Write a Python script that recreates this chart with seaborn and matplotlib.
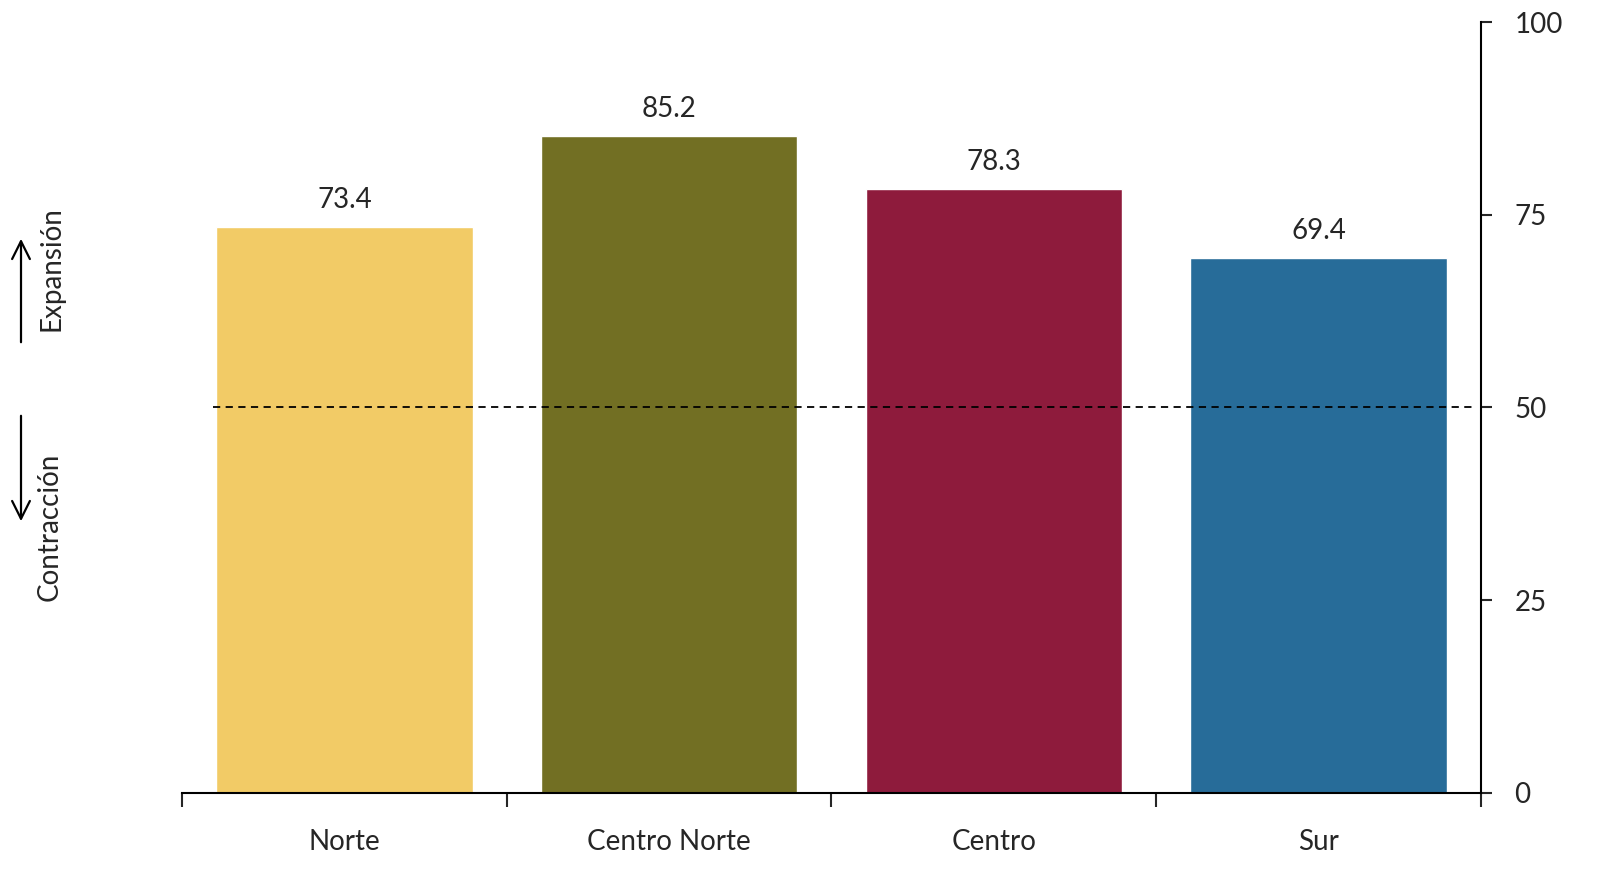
import pandas as pd
import matplotlib.pyplot as plt
import seaborn as sns

sns.set_style("white")
plt.rcParams['font.family'] = ['Lato', 'DejaVu Sans']

# Datos
regiones = ['Norte', 'Centro Norte', 'Centro', 'Sur']
valores = [73.4, 85.2, 78.3, 69.4]
colores = ['#F2CB66', '#726F23', '#8E1B3C', '#276C99']
yticks = [0, 25, 50, 75, 100]

df = pd.DataFrame({'Región': regiones, 'Valor': valores})

fig = plt.figure(figsize=(16.08, 8.71), dpi=100)
ax = fig.add_axes([0.1132, 0.0896, 0.8078, 0.8851])

sns.barplot(data=df, x='Región', y='Valor', hue='Región', palette=colores,
            width=0.79, saturation=1, legend=False, ax=ax)

for cont in ax.containers:
    ax.bar_label(cont, fmt='%.1f', padding=10, fontsize=20)

# Línea de 50
ax.axhline(50, xmin=0.024, xmax=0.994, color='black', linestyle=(0, (4, 3)), linewidth=1.3)

ax.set_xlim(-0.5, 3.5)
ax.set_ylim(0, 100)
ax.set_yticks(yticks)
ax.yaxis.tick_right()
ax.tick_params(axis='y', which='major', right=True, direction='out', length=8, width=1.5,
               labelsize=20, pad=16)
ax.set_xticks(range(len(regiones)))
ax.set_xticklabels(regiones, fontsize=20)
ax.set_xticks([-0.5, 0.5, 1.5, 2.5, 3.5], minor=True)
ax.tick_params(axis='x', which='major', bottom=False, length=0, pad=26)
ax.tick_params(axis='x', which='minor', bottom=True, direction='out', length=10, width=1.5)
ax.set_xlabel('')
ax.set_ylabel('')

for s in ['left', 'top']:
    ax.spines[s].set_visible(False)
for s in ['right', 'bottom']:
    ax.spines[s].set_color('black')
    ax.spines[s].set_linewidth(1.5)

# Flechas de expansión / contracción
ax.annotate('', xy=(21 / 1608, 1 - 236 / 871), xytext=(21 / 1608, 1 - 345 / 871),
            xycoords='figure fraction',
            arrowprops=dict(arrowstyle='->', lw=1.6, color='black', mutation_scale=32))
ax.annotate('', xy=(21 / 1608, 1 - 524 / 871), xytext=(21 / 1608, 1 - 413 / 871),
            xycoords='figure fraction',
            arrowprops=dict(arrowstyle='->', lw=1.6, color='black', mutation_scale=32))
fig.text(52 / 1608, 1 - 269 / 871, 'Expansión', rotation=90, ha='center', va='center', fontsize=20)
fig.text(50 / 1608, 1 - 527 / 871, 'Contracción', rotation=90, ha='center', va='center', fontsize=20)

fig.savefig('out.png', dpi=100)
